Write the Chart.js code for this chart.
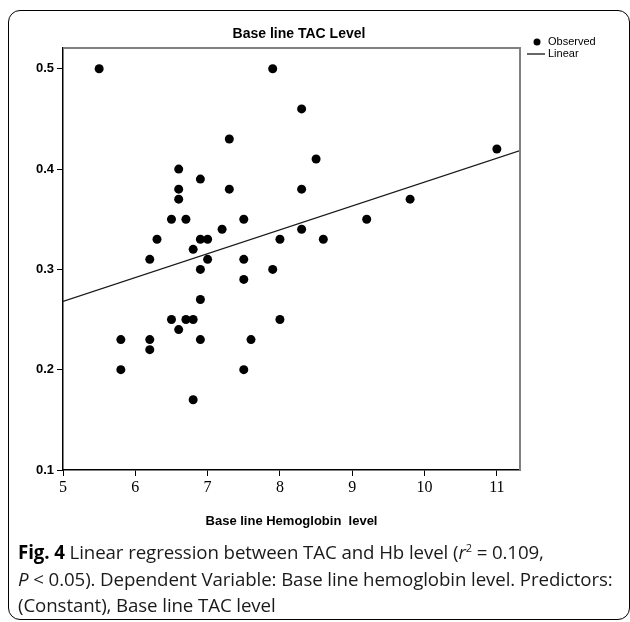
<!DOCTYPE html>
<html>
<head>
<meta charset="utf-8">
<script src="https://cdn.jsdelivr.net/npm/chart.js@4"></script>
<style>
  body { margin: 0; background: #fff; }
  #wrap { position: relative; width: 630px; height: 622px; overflow: hidden; }
  #frame {
    position: absolute; left: 8px; top: 10px; width: 622px; height: 610px;
    border: 1.5px solid #000; border-radius: 12px; box-sizing: border-box;
  }
  #chart { position: absolute; left: 0; top: 0; }
  #caption {
    position: absolute; left: 18px; top: 539px; width: 612px;
    font-family: "Open Sans", sans-serif; font-size: 18.7px; line-height: 26.5px;
    letter-spacing: -0.1px; color: #1a1a1a; white-space: nowrap;
  }
  #caption b { color: #000; }
</style>
</head>
<body>
<div id="wrap">
  <div id="frame"></div>
  <canvas id="chart" width="630" height="540"></canvas>
  <div id="caption"><b>Fig. 4</b> Linear regression between TAC and Hb level (<i>r</i><sup style="font-size:11px;line-height:0">2</sup> = 0.109,<br><i>P</i> &lt; 0.05). Dependent Variable: Base line hemoglobin level. Predictors:<br>(Constant), Base line TAC level</div>
</div>
<script>
// observed points
const hbLevel = [5.5, 7.9, 8.3, 7.3, 8.5, 11.0, 6.6, 6.9, 6.6, 7.3, 8.3, 6.6, 9.8, 6.5, 6.7,
                 7.5, 9.2, 7.2, 8.3, 6.3, 6.9, 7.0, 8.0, 8.6, 6.8, 6.2, 7.0, 7.5, 6.9, 7.9,
                 7.5, 6.9, 6.5, 6.7, 6.8, 8.0, 6.6, 5.8, 6.2, 6.9, 7.6, 6.2, 5.8, 7.5, 6.8];
const tacLevel = [0.50, 0.50, 0.46, 0.43, 0.41, 0.42, 0.40, 0.39, 0.38, 0.38, 0.38, 0.37, 0.37, 0.35, 0.35,
                  0.35, 0.35, 0.34, 0.34, 0.33, 0.33, 0.33, 0.33, 0.33, 0.32, 0.31, 0.31, 0.31, 0.30, 0.30,
                  0.29, 0.27, 0.25, 0.25, 0.25, 0.25, 0.24, 0.23, 0.23, 0.23, 0.23, 0.22, 0.20, 0.20, 0.17];

// fitted line
const fitIntercept = 0.149;
const fitSlope = 0.0238;

const xTicks = [5, 6, 7, 8, 9, 10, 11];
const yTicks = [0.1, 0.2, 0.3, 0.4, 0.5];
const xMin = 5, xMax = 11.32;
const yMin = 0.1, yMax = 0.5207;

const observed = hbLevel.map((x, i) => ({ x: x, y: tacLevel[i] }));
const linear = [xMin, xMax].map(x => ({ x: x, y: fitIntercept + fitSlope * x }));

// title, legend and the grey top/right frame of the plot
const extras = {
    id: 'extras',
    afterDraw(chart) {
        const ctx = chart.ctx;
        const a = chart.chartArea;
        ctx.save();
        ctx.strokeStyle = '#808080';
        ctx.lineWidth = 2;
        ctx.beginPath();
        ctx.moveTo(a.left, a.top);
        ctx.lineTo(a.right, a.top);
        ctx.lineTo(a.right, a.bottom);
        ctx.stroke();

        ctx.fillStyle = '#000';
        ctx.font = 'bold 14px "Liberation Sans", Arial, sans-serif';
        ctx.textAlign = 'center';
        ctx.textBaseline = 'middle';
        ctx.fillText('Base line TAC Level', 299, 34);

        // legend
        ctx.textAlign = 'left';
        ctx.font = '11px "Liberation Sans", Arial, sans-serif';
        ctx.beginPath();
        ctx.arc(537, 42, 3.5, 0, Math.PI * 2);
        ctx.fill();
        ctx.fillText(chart.data.datasets[0].label, 548, 42);
        ctx.lineWidth = 1.2;
        ctx.strokeStyle = '#000';
        ctx.beginPath();
        ctx.moveTo(527, 54);
        ctx.lineTo(545, 54);
        ctx.stroke();
        ctx.fillText(chart.data.datasets[1].label, 548, 54);
        ctx.restore();
    }
};

new Chart(document.getElementById('chart'), {
    type: 'scatter',
    data: {
        datasets: [{
            label: 'Observed',
            data: observed,
            backgroundColor: '#000',
            borderColor: '#000',
            pointRadius: 4.5,
            borderWidth: 0
        }, {
            type: 'line',
            label: 'Linear',
            data: linear,
            borderColor: '#1a1a1a',
            borderWidth: 1.3,
            pointRadius: 0,
            fill: false
        }]
    },
    options: {
        responsive: false,
        animation: false,
        layout: { padding: { left: 0, top: 48, right: 110, bottom: 0 } },
        plugins: {
            legend: { display: false },
            title: { display: false },
            tooltip: { enabled: false }
        },
        scales: {
            x: {
                type: 'linear',
                min: xMin,
                max: xMax,
                afterBuildTicks: s => { s.ticks = xTicks.map(v => ({ value: v })); },
                afterFit: s => { s.height = 70; },
                grid: { drawOnChartArea: false, tickLength: 6, color: '#000' },
                border: { color: '#000', width: 1.5 },
                ticks: {
                    color: '#000',
                    padding: 2,
                    maxRotation: 0,
                    font: { family: '"Liberation Serif", serif', size: 16 }
                },
                title: {
                    display: true,
                    text: 'Base line Hemoglobin  level',
                    color: '#000',
                    font: { family: '"Liberation Sans", Arial, sans-serif', weight: 'bold', size: 13 },
                    padding: { top: 0, bottom: 11 }
                }
            },
            y: {
                min: yMin,
                max: yMax,
                afterBuildTicks: s => { s.ticks = yTicks.map(v => ({ value: v })); },
                afterFit: s => { s.width = 63; },
                grid: { drawOnChartArea: false, tickLength: 6, color: '#000' },
                border: { color: '#000', width: 1.5 },
                ticks: {
                    color: '#000',
                    padding: 3,
                    callback: v => v.toFixed(1),
                    font: { family: '"Liberation Sans", Arial, sans-serif', weight: 'bold', size: 13 }
                }
            }
        }
    },
    plugins: [extras]
});
</script>
</body>
</html>
